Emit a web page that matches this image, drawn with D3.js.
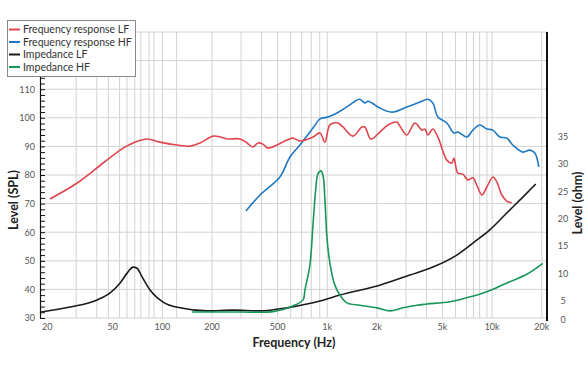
<!DOCTYPE html>
<html><head><meta charset="utf-8">
<script src="https://cdn.jsdelivr.net/npm/d3@7"></script>
<style>body{margin:0;background:#fff} svg{display:block}</style>
</head><body><svg id="c" width="588" height="372"></svg>
<script>
// Frequency response LF (dB SPL)
const lfFreq = [20.8,30.4,43.7,57.8,66.4,80.7,96.8,122.7,147,169,203,224,247,296,326,354,380,407,437,570,619,682,819,903,968,1038,1160,1245,1431,1622,1691,1840,2085,2333,2644,2757,3040,3398,3750,3910,4076,4370,4686,5310,5695,5860,6195,6640,7120,7640,8070,8660,9290,10100,10670,11450,12270,13160];
const lfSpl  = [71.6,77.2,84.2,89.4,91.2,92.6,91.5,90.5,90.1,91.2,93.6,93.3,92.6,92.6,91.2,89.8,91.2,90.8,89.4,92.2,92.9,91.9,93.3,94.7,91.5,97.5,98.2,96.8,93.6,96.8,96.8,92.6,95.0,97.5,98.5,97.1,94.0,98.2,95.7,96.1,94.0,96.1,93.3,85.2,84.2,85.9,80.7,80.3,78.3,79.0,76.5,73.0,75.8,79.3,77.6,73.0,70.9,70.2];
// Frequency response HF (dB SPL)
const hfFreq = [321,391,516,594,682,819,903,1010,1146,1316,1472,1577,1691,1763,1866,2085,2467,3040,3650,4076,4370,4686,5310,5860,6195,7020,7640,8420,9290,10100,11120,12270,13340,15350,16920,18150,19190];
const hfSpl  = [67.4,73.0,79.3,86.3,90.5,96.4,99.6,100.3,101.7,103.8,105.8,106.5,105.2,105.8,105.2,103.4,102.0,103.8,105.5,106.5,105.2,100.3,98.2,94.7,95.0,93.3,95.7,97.5,96.1,95.7,93.3,92.9,90.5,88.0,88.7,87.7,82.8];
// Impedance LF (ohm)
const zlFreq = [18.4,27.6,40.2,48.2,55.4,61.1,66.4,70.2,75.3,84.2,101,128,187,268,391,570,753,903,1194,2085,3170,4370,6100,7640,9680,12270,15350,18400];
const zlOhm  = [2.1,3.4,5.2,6.5,8.3,10.1,11.2,11.0,9.4,7.0,4.7,3.2,2.4,2.6,2.4,3.2,4.2,5.0,6.1,7.9,9.75,11.2,13.4,15.6,18.0,21.1,24.0,26.4];
// Impedance HF (ohm)
const zhFreq = [151,296,469,619,713,732,785,819,853,877,916,942,968,995,1038,1112,1193,1316,1577,2000,2399,2876,3494,4020,5540,7020,9280,12270,16220,20290];
const zhOhm  = [2.1,2.1,2.2,3.7,5.2,7.0,11.6,18.9,25.7,28.2,28.8,28.0,23.5,16.7,11.9,7.9,6.1,4.5,3.9,3.2,2.4,3.2,3.9,4.2,4.8,5.6,6.7,8.3,9.9,11.9];

const xTickVals = [20,50,100,200,500,1000,2000,5000,10000,20000];
const xTickLabels = ["20","50","100","200","500","1k","2k","5k","10k","20k"];
const xGrid = [30,40,47,55,61,68,74,83,89,100,122,200,300,400,500,600,700,800,900,1000,2000,3000,4000,5000,6000,7000,7700,8400,9300,10000,20000];
const splTicks = [30,40,50,60,70,80,90,100,110,120,130];
const ohmTicks = [0,5,10,15,20,25,30,35];
const seriesNames = ["Frequency response LF","Frequency response HF","Impedance LF","Impedance HF"];
const seriesColors = ["#e0454d","#1f78c1","#1a1a1a","#18965a"];

const svg = d3.select("#c");
const font = "Lato, 'Open Sans', sans-serif";
const x = d3.scaleLog().domain([18.1, 21516]).range([40, 547]);
const y = d3.scaleLinear().domain([30, 130]).range([318, 32]);
const yz = d3.scaleLinear().domain([0, 5, 54.2]).range([320, 301, 32]);

// grid
const g = svg.append("g");
g.selectAll("line.vx").data(xGrid).enter().append("line")
  .attr("x1", d => x(d)).attr("x2", d => x(d)).attr("y1", 32).attr("y2", 318)
  .attr("stroke", "#d2d2d2").attr("stroke-width", 1);
g.selectAll("line.hy").data(splTicks).enter().append("line")
  .attr("x1", 40).attr("x2", 547).attr("y1", d => y(d)).attr("y2", d => y(d))
  .attr("stroke", "#d2d2d2").attr("stroke-width", 1);

// left axis
const la = svg.append("g").attr("transform", "translate(40,0)")
  .call(d3.axisLeft(y).tickValues(d3.range(30, 131, 2)).tickSize(-5).tickPadding(5)
    .tickFormat(d => (d % 10 === 0 && d <= 110) ? d : ""));
la.select(".domain").attr("stroke", "#111").attr("stroke-width", 1.2);
la.selectAll(".tick line").attr("stroke", "#111");
la.selectAll("text").attr("font-family", font).attr("font-size", 9).attr("fill", "#555");

// right axis
svg.append("line").attr("x1", 547).attr("x2", 547).attr("y1", 32).attr("y2", 321)
  .attr("stroke", "#111").attr("stroke-width", 2);
svg.selectAll("text.rz").data(ohmTicks).enter().append("text")
  .attr("x", 563).attr("y", d => yz(d)).attr("dy", "0.35em").attr("text-anchor", "middle")
  .attr("font-family", font).attr("font-size", 9).attr("fill", "#555").text(d => d);

// x labels
svg.selectAll("text.xl").data(xTickVals).enter().append("text")
  .attr("x", d => x(d)).attr("y", 327).attr("dy", "0.35em").attr("text-anchor", "middle")
  .attr("font-family", font).attr("font-size", 9).attr("fill", "#555")
  .text((d, i) => xTickLabels[i]);

// titles
svg.append("text").attr("x", 294).attr("y", 343).attr("dy", "0.35em").attr("text-anchor", "middle")
  .attr("font-family", font).attr("font-weight", "bold").attr("font-size", 12.5).attr("fill", "#222")
  .text("Frequency (Hz)");
svg.append("text").attr("transform", "translate(14,200) rotate(-90)").attr("dy", "0.35em")
  .attr("text-anchor", "middle").attr("font-family", font).attr("font-weight", "bold")
  .attr("font-size", 12.5).attr("fill", "#222").text("Level (SPL)");
svg.append("text").attr("transform", "translate(578,203) rotate(-90)").attr("dy", "0.35em")
  .attr("text-anchor", "middle").attr("font-family", font).attr("font-weight", "bold")
  .attr("font-size", 12.5).attr("fill", "#222").text("Level (ohm)");

// curves
const mk = (fs, vs, ys) => fs.map((f, i) => [x(f), ys(vs[i])]);
const line = d3.line().curve(d3.curveCatmullRom.alpha(0.5));
const smooth = d3.line().curve(d3.curveMonotoneX);
const series = [
  mk(lfFreq, lfSpl, y), mk(hfFreq, hfSpl, y), mk(zlFreq, zlOhm, yz), mk(zhFreq, zhOhm, yz)
];
const order = [2, 3, 1, 0];
order.forEach(i => {
  const gen = i === 2 ? smooth : line;
  svg.append("path").attr("d", gen(series[i])).attr("fill", "none")
    .attr("stroke", seriesColors[i]).attr("stroke-width", 1.6).attr("stroke-linejoin", "round");
});

// legend
const lg = svg.append("g");
lg.append("rect").attr("x", 7.5).attr("y", 20.5).attr("width", 128).attr("height", 56)
  .attr("fill", "#fff").attr("stroke", "#8a8a8a").attr("stroke-width", 1);
seriesNames.forEach((n, i) => {
  const yy = 29.5 + i * 12.5;
  lg.append("line").attr("x1", 9).attr("x2", 20).attr("y1", yy).attr("y2", yy)
    .attr("stroke", seriesColors[i]).attr("stroke-width", 2);
  lg.append("text").attr("x", 23).attr("y", yy).attr("dy", "0.35em")
    .attr("font-family", font).attr("font-size", 10.5).attr("fill", "#333").text(n);
});
</script></body></html>
